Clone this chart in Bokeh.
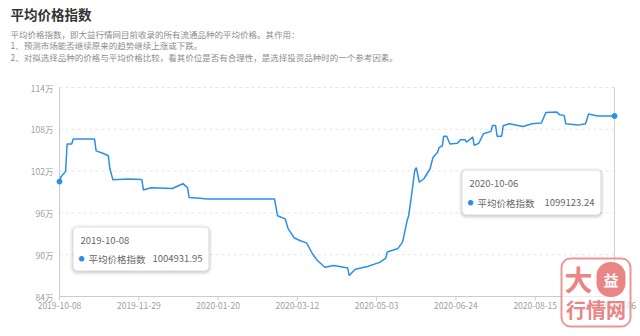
import pandas as pd
from bokeh.plotting import figure
from bokeh.models import Range1d, Label, BoxAnnotation, ColumnDataSource
from bokeh.embed import file_html
from bokeh.resources import INLINE

# ---- data ----
start_date = "2019-10-08"
day_offset = [0, 1, 3, 4, 5, 8, 9, 23, 24, 28, 32, 33, 35, 45, 54, 55, 60, 70, 74, 78,
              81, 83, 84, 85, 92, 97, 141, 143, 148, 150, 154, 158, 162, 166, 169, 174,
              180, 189, 190, 194, 202, 210, 214, 215, 222, 225, 228, 229, 231, 233, 234,
              236, 239, 243, 245, 248, 249, 251, 252, 254, 256, 261, 263, 266, 267, 271,
              272, 275, 278, 283, 284, 286, 287, 290, 291, 295, 304, 310, 316, 319, 326,
              328, 331, 332, 340, 345, 347, 353, 364]
index_wan = [100.493195, 101.2, 101.7, 102.0, 105.9, 105.9, 106.6, 106.6, 104.9, 104.6,
             104.2, 102.4, 100.75, 100.85, 100.8, 99.3, 99.6, 99.55, 99.5, 99.9,
             100.2, 99.8, 99.6, 98.2, 98.1, 98.0, 98.0, 95.6, 95.15, 93.7,
             92.4, 92.0, 91.7, 90.1, 89.2, 88.2, 88.45, 88.1, 87.0, 87.9,
             88.3, 88.9, 89.5, 90.4, 90.9, 91.8, 94.9, 95.6, 98.7, 102.1,
             102.5, 100.4, 100.9, 102.3, 104.0, 104.7, 105.4, 105.6, 107.0, 107.0,
             105.9, 106.0, 106.5, 106.5, 106.15, 106.9, 105.7, 106.0, 107.35, 107.7,
             108.55, 108.55, 107.0, 107.0, 108.5, 108.8, 108.4, 108.8, 108.9, 110.4,
             110.5, 110.1, 110.0, 108.8, 108.6, 108.8, 110.2, 109.9, 109.912324]
x_tick_labels = ["2019-10-08", "2019-11-29", "2020-01-20", "2020-03-12",
                 "2020-05-03", "2020-06-24", "2020-08-15", "2020-10-06"]
y_ticks = [84, 90, 96, 102, 108, 114]
y_tick_labels = ["84万", "90万", "96万", "102万", "108万", "114万"]
series_name = "平均价格指数"
tip_dates = ["2019-10-08", "2020-10-06"]
tip_values = ["1004931.95", "1099123.24"]

title_text = "平均价格指数"
sub_lines = ["平均价格指数，即大益行情网目前收录的所有流通品种的平均价格。其作用：",
             "1、预测市场能否继续原来的趋势继续上涨或下跌。",
             "2、对拟选择品种的价格与平均价格比较，看其价位是否有合理性，是选择投资品种时的一个参考因素。"]

FONT = "Noto Sans CJK SC"
BLUE = "#2b8fe8"
W, H = 640, 336
# plotting area in pixels (left, right, top, bottom)
PL, PR, PT, PB = 59, 614, 87, 296

dates = pd.Timestamp(start_date) + pd.to_timedelta(day_offset, unit="D")
x0, x1 = dates[0], dates[-1]
ymin, ymax = y_ticks[0], y_ticks[-1]
dx_per_px = (x1 - x0) / (PR - PL)
dy_per_px = (ymax - ymin) / (PB - PT)
x_range = Range1d(x0 - PL * dx_per_px, x1 + (W - PR) * dx_per_px)
y_range = Range1d(ymin - (H - PB) * dy_per_px, ymax + PT * dy_per_px)

p = figure(width=W, height=H, x_axis_type="datetime", output_backend="svg",
           toolbar_location=None, min_border=0, x_range=x_range, y_range=y_range)
p.axis.visible = False
p.grid.visible = False
p.outline_line_color = None

# y grid lines (dashed) and y tick labels
n = len(y_ticks)
p.segment(x0=[x0] * n, x1=[x1] * n, y0=y_ticks, y1=y_ticks,
          line_color="#e6e6e6", line_dash="3 3", line_width=1)
p.text(x=[x0] * n, y=y_ticks, text=y_tick_labels, x_offset=-6,
       text_align="right", text_baseline="middle", text_font_size="8.5px",
       text_color="#a0a0a0", text_font={"value": FONT})

# axis lines
p.segment(x0=[x0], x1=[x0], y0=[ymin], y1=[ymax], line_color="#cccccc", line_width=1)
p.segment(x0=[x0], x1=[x1], y0=[ymin], y1=[ymin], line_color="#cccccc", line_width=1)

# x ticks and labels
tick_dates = pd.to_datetime(x_tick_labels)
m = len(tick_dates)
p.segment(x0=tick_dates, x1=tick_dates, y0=[ymin] * m, y1=[ymin - 4 * dy_per_px] * m,
          line_color="#cccccc", line_width=1)
p.text(x=tick_dates, y=[ymin] * m, text=x_tick_labels, y_offset=9,
       text_align="center", text_baseline="middle", text_font_size="8.5px",
       text_color="#a0a0a0", text_font={"value": FONT})

# axis pointer at last point
p.segment(x0=[x1], x1=[x1], y0=[ymin], y1=[ymax], line_color="#cfcfcf", line_width=1)

# series
src = ColumnDataSource(dict(x=dates, y=index_wan))
p.line("x", "y", source=src, line_color=BLUE, line_width=1.5)
p.scatter(x=[dates[0], dates[-1]], y=[index_wan[0], index_wan[-1]], size=5, color=BLUE)

# title & description (screen units, origin bottom-left of canvas)
p.add_layout(Label(x=10, y=H - 13, x_units="screen", y_units="screen", text=title_text,
                   text_font=FONT, text_font_size="13.5px", text_font_style="bold",
                   text_color="#333333", text_baseline="middle"))
for i, line in enumerate(sub_lines):
    p.add_layout(Label(x=10, y=H - 33 - i * 11.5, x_units="screen", y_units="screen",
                       text=line, text_font=FONT, text_font_size="8.5px",
                       text_color="#8c8c8c", text_baseline="middle"))

# tooltips (left, right, top, bottom in canvas pixels from top)
boxes = [(73, 208, 227, 270), (462, 600, 170, 214)]
for (l, r, t, b), d, v in zip(boxes, tip_dates, tip_values):
    top, bot = H - t, H - b
    for k, a in ((4, 0.025), (3, 0.035), (2, 0.045), (1, 0.06)):
        p.add_layout(BoxAnnotation(left=l - k, right=r + k, top=top + k - 1,
                                   bottom=bot - k - 1,
                                   left_units="screen", right_units="screen",
                                   top_units="screen", bottom_units="screen",
                                   fill_color="#000000", fill_alpha=a, line_color=None,
                                   border_radius=4 + k))
    p.add_layout(BoxAnnotation(left=l, right=r, top=top, bottom=bot,
                               left_units="screen", right_units="screen",
                               top_units="screen", bottom_units="screen",
                               fill_color="white", fill_alpha=1, line_color="#f0f0f0",
                               border_radius=4))
    p.add_layout(Label(x=l + 7, y=top - 13, x_units="screen", y_units="screen", text=d,
                       text_font=FONT, text_font_size="9.5px", text_color="#666666",
                       text_baseline="middle"))
    p.add_layout(Label(x=l + 8, y=bot + 12, x_units="screen", y_units="screen", text="●",
                       text_font=FONT, text_font_size="6px", text_color=BLUE,
                       text_baseline="middle", text_align="center"))
    p.add_layout(Label(x=l + 15, y=bot + 12, x_units="screen", y_units="screen",
                       text=series_name, text_font=FONT, text_font_size="9.5px",
                       text_color="#666666", text_baseline="middle"))
    p.add_layout(Label(x=r - 6, y=bot + 12, x_units="screen", y_units="screen", text=v,
                       text_font=FONT, text_font_size="9.5px", text_color="#666666",
                       text_baseline="middle", text_align="right"))

# watermark logo
PINK = "#e98585"
p.add_layout(BoxAnnotation(left=561, right=630, top=H - 258, bottom=H - 326,
                           left_units="screen", right_units="screen",
                           top_units="screen", bottom_units="screen",
                           fill_color="white", fill_alpha=0.6, line_color=PINK,
                           line_alpha=0.85, line_width=2, border_radius=9))
p.add_layout(Label(x=578, y=H - 278, x_units="screen", y_units="screen", text="大",
                   text_font=FONT, text_font_size="28px", text_font_style="bold",
                   text_color=PINK, text_baseline="middle", text_align="center"))
p.add_layout(Label(x=610.5, y=H - 279, x_units="screen", y_units="screen", text="益",
                   text_font=FONT, text_font_size="15px", text_font_style="bold",
                   text_color="white", text_baseline="middle", text_align="center",
                   background_fill_color=PINK, background_fill_alpha=1,
                   border_radius=14, padding=7))
p.add_layout(Label(x=595.5, y=H - 309, x_units="screen", y_units="screen", text="行情网",
                   text_font=FONT, text_font_size="20px", text_font_style="bold",
                   text_color=PINK, text_baseline="middle", text_align="center"))

open("out.html", "w").write(file_html(p, INLINE))
